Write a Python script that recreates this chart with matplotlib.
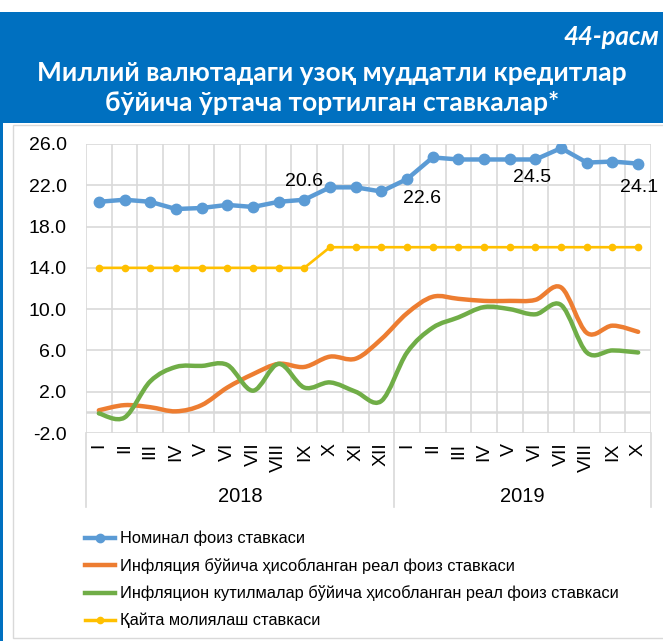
import numpy as np
import matplotlib
matplotlib.use("Agg")
import matplotlib.pyplot as plt
from matplotlib.path import Path
from matplotlib.patches import PathPatch, Rectangle
from matplotlib.lines import Line2D
import matplotlib.transforms as mtransforms

# data
months_2018 = ["I", "II", "III", "IV", "V", "VI", "VII", "VIII", "IX", "X", "XI", "XII"]
months_2019 = ["I", "II", "III", "IV", "V", "VI", "VII", "VIII", "IX", "X"]
years = ["2018", "2019"]

nominal = [20.4, 20.6, 20.4, 19.7, 19.8, 20.1, 19.9, 20.4, 20.6, 21.8, 21.8, 21.4,
           22.6, 24.7, 24.5, 24.5, 24.5, 24.5, 25.6, 24.2, 24.3, 24.1]
real_infl = [0.2, 0.7, 0.5, 0.1, 0.7, 2.4, 3.7, 4.7, 4.4, 5.4, 5.2, 7.1,
             9.6, 11.2, 11.0, 10.8, 10.8, 10.9, 12.1, 7.7, 8.4, 7.8]
real_exp = [-0.1, -0.5, 3.0, 4.4, 4.5, 4.6, 2.1, 4.7, 2.4, 2.9, 2.0, 1.1,
            5.8, 8.2, 9.2, 10.2, 10.0, 9.5, 10.4, 5.8, 6.0, 5.8]
refin = [14.0] * 9 + [16.0] * 13

labels = ["Номинал фоиз ставкаси",
          "Инфляция бўйича ҳисобланган реал фоиз ставкаси",
          "Инфляцион кутилмалар бўйича ҳисобланган реал фоиз ставкаси",
          "Қайта молиялаш ставкаси"]

# which nominal points get a value label, and pixel offsets
nominal_marked = {8: (0, 18), 12: (15, -19), 17: (-3, -18), 21: (1, -24)}

BLUE = "#5B9BD5"
ORANGE = "#ED7D31"
GREEN = "#70AD47"
YELLOW = "#FFC000"
GRID = "#D9D9D9"
HEAD = "#0070C0"


def smooth_path(xs, ys):
    # excel style smoothed line, bezier segments
    pts = np.column_stack([xs, ys]).astype(float)
    n = len(pts)
    verts = [pts[0]]
    codes = [Path.MOVETO]
    for i in range(n - 1):
        p0 = pts[i - 1] if i > 0 else pts[i]
        p1 = pts[i]
        p2 = pts[i + 1]
        p3 = pts[i + 2] if i + 2 < n else pts[i + 1]
        c1 = p1 + (p2 - p0) / 6.0
        c2 = p2 - (p3 - p1) / 6.0
        verts += [c1, c2, p2]
        codes += [Path.CURVE4] * 3
    return Path(verts, codes)


W, H = 663, 641
fig = plt.figure(figsize=(W / 100, H / 100), dpi=100)
fig.patch.set_facecolor("white")

# header band and frame
fig.patches.append(Rectangle((0, 1 - 123 / H), 1, 111 / H, transform=fig.transFigure,
                             facecolor=HEAD, edgecolor="none", zorder=-5))
fig.patches.append(Rectangle((0, 0), 3 / W, 1 - 12 / H, transform=fig.transFigure,
                             facecolor=HEAD, edgecolor="none", zorder=-5))
fig.patches.append(Rectangle((13 / W, 3 / H), 1.0, 1 - 128 / H, transform=fig.transFigure,
                             facecolor="white", edgecolor=GRID, lw=1, zorder=-4))

fig.text(659 / W, 1 - 37 / H, "44-расм", color="white", fontsize=18.5, fontweight="bold",
         fontstyle="italic", family="Lato", ha="right", va="center")
fig.text(332 / W, 1 - 73 / H, "Миллий валютадаги узоқ муддатли кредитлар", color="white",
         fontsize=19, fontweight="bold", family="Lato", ha="center", va="center")
fig.text(332 / W, 1 - 103 / H, "бўйича ўртача тортилган ставкалар*", color="white",
         fontsize=19, fontweight="bold", family="Lato", ha="center", va="center")

ax = fig.add_axes([86 / W, 1 - 433 / H, (651 - 86) / W, (433 - 144) / H])
ax.set_facecolor("none")
x = np.arange(len(nominal))
n = len(x)
ax.set_xlim(-0.5, n - 0.5)
ax.set_ylim(-2, 26)
ax.set_yticks(np.arange(-2, 27, 4))
ax.set_yticklabels([f"{v:.1f}" for v in np.arange(-2, 27, 4)], family="Liberation Sans",
                   fontsize=14)
ax.tick_params(axis="y", length=0, pad=14)
ax.set_xticks([])
for s in ax.spines.values():
    s.set_visible(False)
ax.yaxis.grid(True, color=GRID, lw=1.2)
ax.set_axisbelow(True)

# vertical category lines
for k in range(n + 1):
    ax.axvline(k - 0.5, color=GRID, lw=1.2, zorder=0)
ax.axhline(0, color=GRID, lw=1.8, zorder=0)

# group separators run down through the labels
trans = mtransforms.blended_transform_factory(ax.transData, ax.transAxes)
for xb in [-0.5, len(months_2018) - 0.5, n - 0.5]:
    ax.add_line(Line2D([xb, xb], [0, -0.256], transform=trans, color=GRID, lw=1.2,
                       clip_on=False))

month_labels = months_2018 + months_2019
for i, m in enumerate(month_labels):
    ax.text(i, -0.033, m, transform=trans, rotation=90, ha="center", va="top",
            family="Liberation Sans", fontsize=14, color="black")
ax.text((len(months_2018) - 1) / 2, -0.218, years[0], transform=trans, ha="center",
        va="center", family="Liberation Sans", fontsize=14.5)
ax.text(len(months_2018) + (len(months_2019) - 1) / 2, -0.218, years[1], transform=trans,
        ha="center", va="center", family="Liberation Sans", fontsize=14.5)

# series
ax.plot(x, refin, color=YELLOW, lw=1.9, marker="o", ms=4.5, zorder=3)
ax.add_patch(PathPatch(smooth_path(x, real_infl), facecolor="none", edgecolor=ORANGE,
                       lw=3.2, capstyle="round", joinstyle="round", zorder=3))
ax.add_patch(PathPatch(smooth_path(x, real_exp), facecolor="none", edgecolor=GREEN,
                       lw=3.2, capstyle="round", joinstyle="round", zorder=3))
ax.plot(x, nominal, color=BLUE, lw=3.2, marker="o", ms=7.5, zorder=4)

for i, (dx, dy) in nominal_marked.items():
    ax.annotate(f"{nominal[i]:.1f}", (x[i], nominal[i]), xytext=(dx, dy),
                textcoords="offset pixels", ha="center", va="center",
                family="Liberation Sans", fontsize=14, annotation_clip=False)

handles = [Line2D([], [], color=BLUE, lw=3.2, marker="o", ms=6),
           Line2D([], [], color=ORANGE, lw=3.2),
           Line2D([], [], color=GREEN, lw=3.2),
           Line2D([], [], color=YELLOW, lw=2.5, marker="o", ms=4.5)]
fig.legend(handles, labels, loc="upper left", bbox_to_anchor=(85 / W, 1 - 531 / H),
           frameon=False, prop={"family": "Liberation Sans", "size": 11.8},
           handlelength=1.85, handletextpad=0.3, labelspacing=0.7, borderpad=0,
           borderaxespad=0)

fig.savefig("out.png", dpi=100)
